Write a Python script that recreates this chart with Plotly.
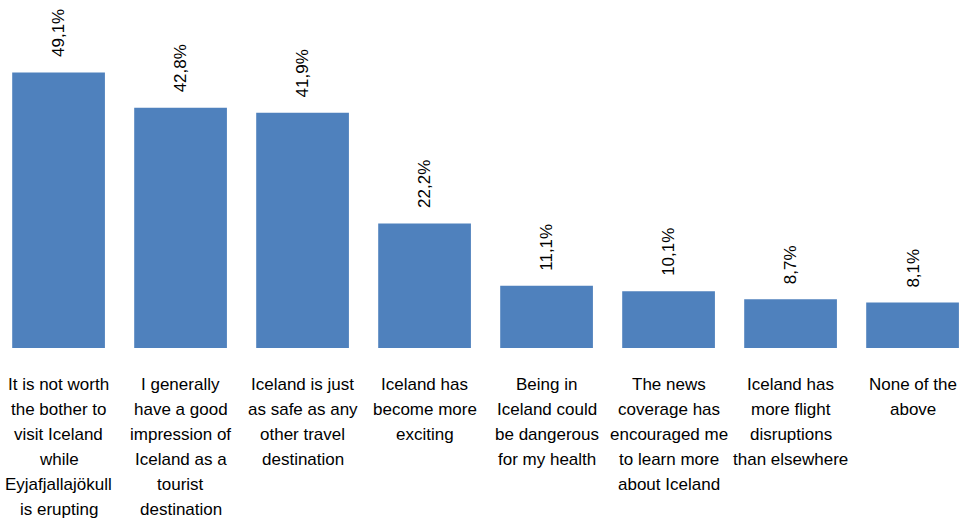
import plotly.graph_objects as go

categories = [
    "It is not worth<br>the bother to<br>visit Iceland<br>while<br>Eyjafjallajökull<br>is erupting",
    "I generally<br>have a good<br>impression of<br>Iceland as a<br>tourist<br>destination",
    "Iceland is just<br>as safe as any<br>other travel<br>destination",
    "Iceland has<br>become more<br>exciting",
    "Being in<br>Iceland could<br>be dangerous<br>for my health",
    "The news<br>coverage has<br>encouraged me<br>to learn more<br>about Iceland",
    "Iceland has<br>more flight<br>disruptions<br>than elsewhere",
    "None of the<br>above",
]
values = [49.1, 42.8, 41.9, 22.2, 11.1, 10.1, 8.7, 8.1]

FONT = "Liberation Sans, Arial, sans-serif"
BAR_COLOR = "#4F81BD"
LINE_STEP = 25      # px between category label lines
FIRST_LINE = 36     # px from the baseline of the bars to the first line's centre

def pct_label(v):
    return f"{v:.1f}%".replace(".", ",")

x_pos = list(range(len(categories)))

fig = go.Figure(
    go.Bar(
        x=x_pos,
        y=values,
        marker=dict(color=BAR_COLOR, line=dict(width=0)),
        hoverinfo="skip",
    )
)

# value labels, rotated, sitting just above each bar
for i, v in enumerate(values):
    fig.add_annotation(
        x=i, y=v, xref="x", yref="y",
        text=pct_label(v),
        textangle=-90,
        showarrow=False,
        xanchor="center", yanchor="bottom",
        yshift=13,
        font=dict(family=FONT, size=17, color="#000000"),
    )

# category labels under the bars, one annotation per line for even spacing
for i, cat in enumerate(categories):
    for k, line in enumerate(cat.split("<br>")):
        fig.add_annotation(
            x=i, y=0, xref="x", yref="y",
            text=line,
            showarrow=False,
            xanchor="center", yanchor="middle",
            yshift=-(FIRST_LINE + LINE_STEP * k),
            font=dict(family=FONT, size=17, color="#000000"),
        )

fig.update_layout(
    width=976, height=523,
    margin=dict(l=0, r=0, t=0, b=175),
    paper_bgcolor="white", plot_bgcolor="white",
    bargap=0.24,
    showlegend=False,
    xaxis=dict(
        range=[-0.48, 7.52],
        visible=False,
    ),
    yaxis=dict(
        range=[0, 62],
        visible=False,
    ),
)

fig.write_html("out.html")
